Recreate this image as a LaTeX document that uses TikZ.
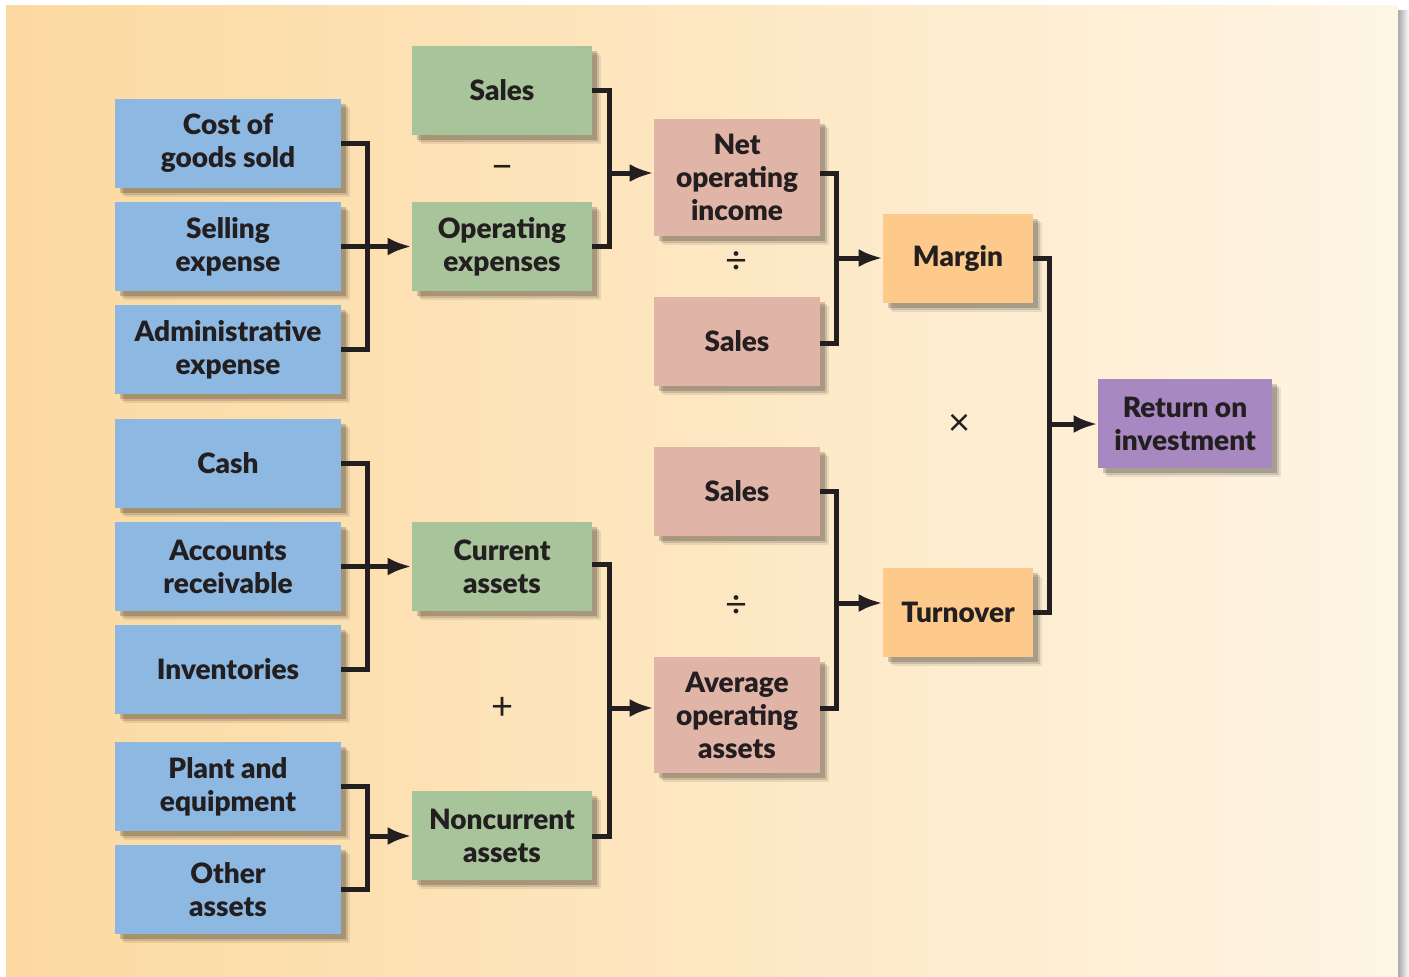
\documentclass[tikz,border=0pt]{standalone}
\usepackage{fontspec}
\setmainfont{Lato}[BoldFont={Lato Black}]
\usetikzlibrary{arrows.meta,calc,shadows}
\definecolor{Ink}{RGB}{35,31,32}
\definecolor{PaperLeft}{RGB}{252,217,160}
\definecolor{PaperRight}{RGB}{254,245,228}
\definecolor{CostBlue}{RGB}{140,184,226}
\definecolor{SumGreen}{RGB}{168,196,154}
\definecolor{RatioRose}{RGB}{224,180,166}
\definecolor{RateOrange}{RGB}{253,202,140}
\definecolor{RoiPurple}{RGB}{168,136,192}

\begin{document}
\begin{tikzpicture}[x=0.5pt,y=-0.5pt,>={Latex[length=12pt,width=9pt]},
  soft shadow/.style={
    drop shadow={shadow xshift=4.5pt,shadow yshift=-4.5pt,opacity=.08,fill=black},
    drop shadow={shadow xshift=3.5pt,shadow yshift=-3.5pt,opacity=.12,fill=black},
    drop shadow={shadow xshift=2.5pt,shadow yshift=-2.5pt,opacity=.18,fill=black}},
  box/.style={inner sep=0pt,minimum height=44.5pt,align=center,text=Ink,
    font=\bfseries\fontsize{14}{16.5}\selectfont,soft shadow},
  costbox/.style={box,fill=CostBlue,minimum width=113pt},
  sumbox/.style={box,fill=SumGreen,minimum width=90pt},
  ratiobox/.style={box,fill=RatioRose,minimum width=83pt},
  ratebox/.style={box,fill=RateOrange,minimum width=75pt},
  roibox/.style={box,fill=RoiPurple,minimum width=87pt},
  link/.style={draw=Ink,line width=2.5pt},
  op/.style={text=Ink,inner sep=0pt,font=\fontsize{19}{20}\selectfont}]
\useasboundingbox (0,0) rectangle (1409,976);
% paper
\fill[white] (0,0) rectangle (1409,976);
\shade[left color=black!35,right color=white] (1398,10) rectangle (1409,976);
\shade[left color=PaperLeft,right color=PaperRight] (6,5) rectangle (1398,976);

% expense side
\node[costbox] (cogs) at (228,143.5) {Cost of\\goods sold};
\node[costbox] (sell) at (228,246.5) {Selling\\expense};
\node[costbox] (admin) at (228,349.5) {Administrative\\expense};
\node[sumbox] (sales1) at (502,90) {Sales};
\node[sumbox] (opex) at (502,246.5) {Operating\\expenses};
\node[ratiobox,minimum height=58.5pt] (noi) at (737,177.5) {Net\\operating\\income};
\node[ratiobox] (sales2) at (737,341) {Sales};
\node[ratebox] (margin) at (958,258) {Margin};

% asset side
\node[costbox] (cash) at (228,463) {Cash};
\node[costbox] (recv) at (228,566.5) {Accounts\\receivable};
\node[costbox] (inv) at (228,669) {Inventories};
\node[costbox] (plant) at (228,786.5) {Plant and\\equipment};
\node[costbox] (other) at (228,889.5) {Other\\assets};
\node[sumbox] (curr) at (502,566.5) {Current\\assets};
\node[sumbox] (noncurr) at (502,835.5) {Noncurrent\\assets};
\node[ratiobox] (sales3) at (737,491) {Sales};
\node[ratiobox,minimum height=58pt] (avgops) at (737,715) {Average\\operating\\assets};
\node[ratebox] (turn) at (958,612) {Turnover};
\node[roibox] (roi) at (1185,423.5) {Return on\\investment};

% operators
\node[op] (minus) at (503,172) {−};
\node[op] (div1) at (737,263) {÷};
\node[op] (times) at (960,425) {×};
\node[op] (div2) at (737,607) {÷};
\node[op] (plus) at (503,708) {+};

% junctions
\coordinate (jopex) at (367,246);
\coordinate (jnoi) at (609,173);
\coordinate (jmargin) at (836,258);
\coordinate (jroi) at (1049,424);
\coordinate (jcurr) at (367,566);
\coordinate (jnon) at (367,836);
\coordinate (javg) at (609,708);
\coordinate (jturn) at (836,603);

% brackets
\draw[link] (cogs.east) -| (jopex) |- (admin.east);
\draw[link,->] (sell.east) -- (opex.west);
\draw[link] (sales1.east) -| (jnoi) |- (opex.east);
\draw[link,->] (jnoi) -- (noi.west |- jnoi);
\draw[link] (noi.east |- 0,173) -| (jmargin) |- (sales2.east |- 0,343);
\draw[link,->] (jmargin) -- (margin.west |- jmargin);
\draw[link] (margin.east) -| (jroi) |- (turn.east);
\draw[link,->] (jroi) -- (roi.west |- jroi);

\draw[link] (cash.east) -| (jcurr) |- (inv.east);
\draw[link,->] (recv.east) -- (curr.west);
\draw[link] (plant.east) -| (jnon) |- (other.east);
\draw[link,->] (jnon) -- (noncurr.west |- jnon);
\draw[link] (curr.east |- 0,564) -| (javg) |- (noncurr.east |- 0,836);
\draw[link,->] (javg) -- (avgops.west |- javg);
\draw[link] (sales3.east) -| (jturn) |- (avgops.east |- javg);
\draw[link,->] (jturn) -- (turn.west |- jturn);
\end{tikzpicture}
\end{document}
